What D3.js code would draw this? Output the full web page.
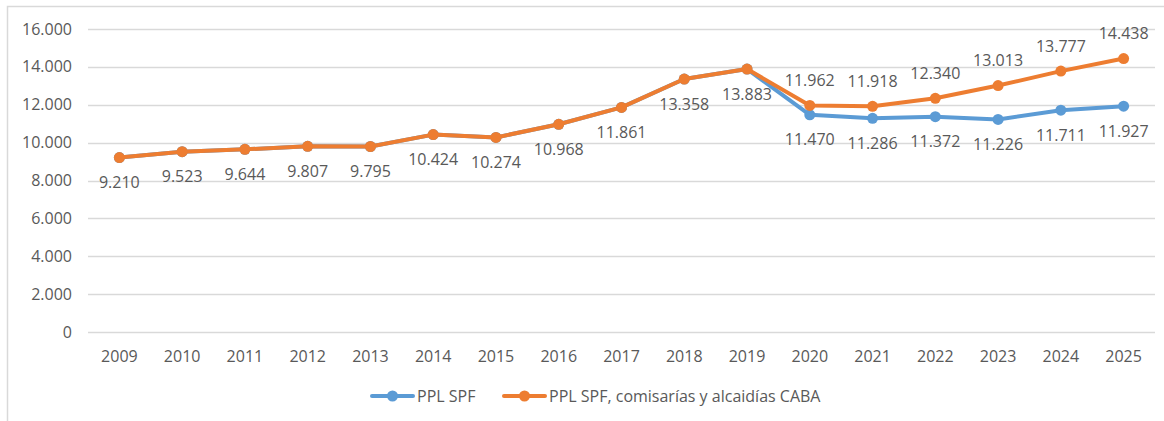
<!DOCTYPE html>
<html>
<head>
<meta charset="utf-8">
<script src="https://cdn.jsdelivr.net/npm/d3@7"></script>
<style>
  body { margin: 0; background: #fff; }
  svg text { font-family: "Open Sans", "Liberation Sans", sans-serif; fill: #595959; }
</style>
</head>
<body>
<div id="chart"></div>
<script>
var width = 1164,
    height = 421;
var margin = {top: 29, right: 9, bottom: 89, left: 88};

// data
var years = ['2009','2010','2011','2012','2013','2014','2015','2016','2017','2018','2019','2020','2021','2022','2023','2024','2025'];
var pplSpf = [9210, 9523, 9644, 9807, 9795, 10424, 10274, 10968, 11861, 13358, 13883, 11470, 11286, 11372, 11226, 11711, 11927];
var pplTotal = [9210, 9523, 9644, 9807, 9795, 10424, 10274, 10968, 11861, 13358, 13883, 11962, 11918, 12340, 13013, 13777, 14438];
var yTicks = [0, 2000, 4000, 6000, 8000, 10000, 12000, 14000, 16000];
var seriesNames = ['PPL SPF', 'PPL SPF, comisarías y alcaidías CABA'];
var colors = ['#5b9bd5', '#ed7d31'];

var fmt = function(v) { return d3.format(',')(v).replace(/,/g, '.'); };

var svg = d3.select('#chart').append('svg')
  .attr('width', width)
  .attr('height', height);

// chart frame (only left/top visible in crop)
svg.append('path')
  .attr('d', 'M7.5,' + height + 'V6.5H' + width)
  .attr('fill', 'none')
  .attr('stroke', '#d9d9d9')
  .attr('stroke-width', 1.5);

var x = d3.scaleBand()
  .domain(years)
  .range([margin.left, width - margin.right]);

var y = d3.scaleLinear()
  .domain([0, 16000])
  .range([height - margin.bottom, margin.top]);

// gridlines
svg.append('g')
  .selectAll('line')
  .data(yTicks)
  .enter().append('line')
  .attr('x1', margin.left)
  .attr('x2', width - margin.right)
  .attr('y1', d => Math.round(y(d)) + 0.5)
  .attr('y2', d => Math.round(y(d)) + 0.5)
  .attr('stroke', '#d9d9d9')
  .attr('stroke-width', 1.5);

// y labels
svg.append('g')
  .selectAll('text')
  .data(yTicks)
  .enter().append('text')
  .attr('x', 72)
  .attr('y', d => y(d))
  .attr('dy', '0.35em')
  .attr('text-anchor', 'end')
  .style('font-size', '16px')
  .text(d => fmt(d));

// x labels
svg.append('g')
  .selectAll('text')
  .data(years)
  .enter().append('text')
  .attr('x', d => x(d) + x.bandwidth() / 2)
  .attr('y', height - margin.bottom + 24)
  .attr('dy', '0.35em')
  .attr('text-anchor', 'middle')
  .style('font-size', '16px')
  .text(d => d);

var cx = d => x(d) + x.bandwidth() / 2;

var line = d3.line()
  .x(d => cx(d.year))
  .y(d => y(d.value));

var series = [pplSpf, pplTotal].map((vals, i) => ({
  name: seriesNames[i],
  color: colors[i],
  values: years.map((yr, j) => ({year: yr, value: vals[j]}))
}));

series.forEach(function(s) {
  svg.append('path')
    .datum(s.values)
    .attr('fill', 'none')
    .attr('stroke', s.color)
    .attr('stroke-width', 4)
    .attr('stroke-linejoin', 'round')
    .attr('d', line);

  svg.append('g')
    .selectAll('circle')
    .data(s.values)
    .enter().append('circle')
    .attr('cx', d => cx(d.year))
    .attr('cy', d => y(d.value))
    .attr('r', 5.5)
    .attr('fill', s.color);
});

// data labels: blue below everywhere, orange above where lines split
var labels = [];
years.forEach(function(yr, j) {
  labels.push({year: yr, value: pplSpf[j], pos: 'below'});
  if (pplTotal[j] !== pplSpf[j]) labels.push({year: yr, value: pplTotal[j], pos: 'above'});
});

svg.append('g')
  .selectAll('text')
  .data(labels)
  .enter().append('text')
  .attr('x', d => cx(d.year))
  .attr('y', d => y(d.value) + (d.pos === 'below' ? 25 : -25))
  .attr('dy', '0.35em')
  .attr('text-anchor', 'middle')
  .style('font-size', '16px')
  .text(d => fmt(d.value));

// legend
var legend = svg.append('g').attr('transform', 'translate(372,396)');
var lx = [0, 132];
series.forEach(function(s, i) {
  var g = legend.append('g').attr('transform', 'translate(' + lx[i] + ',0)');
  g.append('line')
    .attr('x1', 0).attr('x2', 41)
    .attr('y1', 0).attr('y2', 0)
    .attr('stroke', s.color)
    .attr('stroke-width', 4)
    .attr('stroke-linecap', 'round');
  g.append('circle')
    .attr('cx', 20.5).attr('cy', 0).attr('r', 5.5)
    .attr('fill', s.color);
  g.append('text')
    .attr('x', 45)
    .attr('y', 0)
    .attr('dy', '0.35em')
    .style('font-size', '16px')
    .text(s.name);
});
</script>
</body>
</html>
